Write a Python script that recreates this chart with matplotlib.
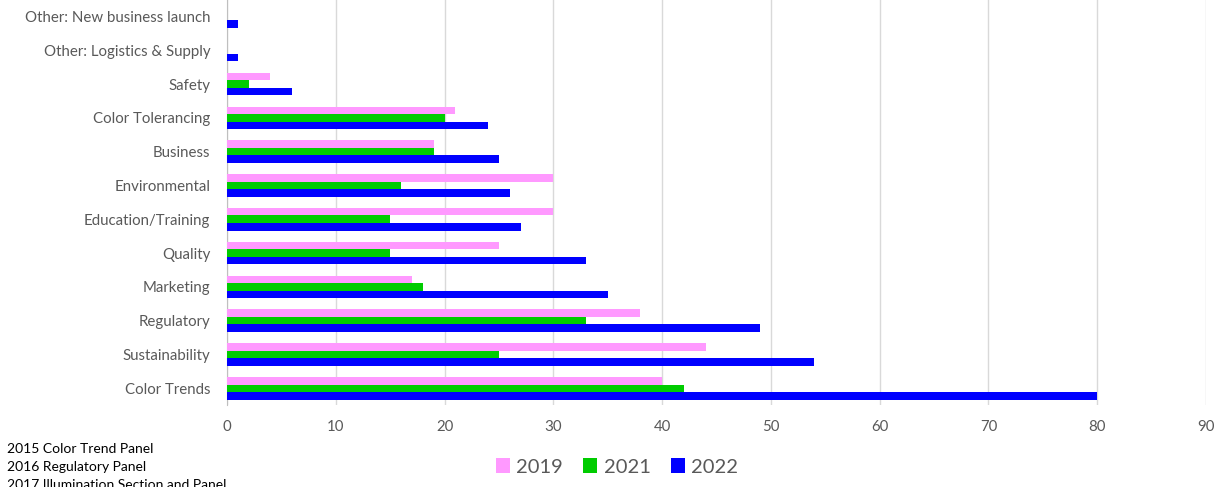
import matplotlib
matplotlib.use("Agg")
import matplotlib.pyplot as plt
import numpy as np

categories = ["Color Trends", "Sustainability", "Regulatory", "Marketing", "Quality",
              "Education/Training", "Environmental", "Business", "Color Tolerancing",
              "Safety", "Other: Logistics & Supply", "Other: New business launch"]
v2019 = [40, 44, 38, 17, 25, 30, 30, 19, 21, 4, 0, 0]
v2021 = [42, 25, 33, 18, 15, 15, 16, 19, 20, 2, 0, 0]
v2022 = [80, 54, 49, 35, 33, 27, 26, 25, 24, 6, 1, 1]
series_labels = ["2019", "2021", "2022"]
colors = ["#FF99FF", "#00CC00", "#0000FF"]
xticks = list(range(0, 91, 10))
notes = ["2015 Color Trend Panel", "2016 Regulatory Panel", "2017 Illumination Section and Panel"]

plt.rcParams['font.family'] = ['Lato', 'DejaVu Sans']
fig = plt.figure(figsize=(12.17, 4.87), dpi=100)
ax = fig.add_axes([0.1865, 0.168, 0.8045, 0.833])

y = np.arange(len(categories))
h = 0.222
for off, vals, lab, c in zip([h, 0, -h], [v2019, v2021, v2022], series_labels, colors):
    ax.barh(y + off, vals, height=h, color=c, label=lab, zorder=3)

ax.set_xlim(0, 90)
ax.set_ylim(-0.5, len(categories) - 0.5)
ax.set_xticks(xticks)
ax.set_yticks(y)
ax.set_yticklabels(categories)
ax.grid(axis='x', color='#D9D9D9', linewidth=1, zorder=0)
for s in ['top', 'right', 'bottom']:
    ax.spines[s].set_visible(False)
ax.spines['left'].set_color('#BFBFBF')
ax.tick_params(axis='both', length=0, colors='#595959', labelsize=10.8)
ax.tick_params(axis='x', pad=11)
ax.tick_params(axis='y', pad=12)

leg = fig.legend(loc='center', bbox_to_anchor=(0.507, 0.041), ncol=3, frameon=False,
                 fontsize=14.5, handlelength=0.7, handleheight=0.7, handletextpad=0.3,
                 columnspacing=1.0, labelcolor='#595959')

for i, t in enumerate(notes):
    fig.text(0.006, 0.079 - i * 0.037, t, fontsize=10, color='#000000', va='center')

fig.savefig("out.png", dpi=100)
